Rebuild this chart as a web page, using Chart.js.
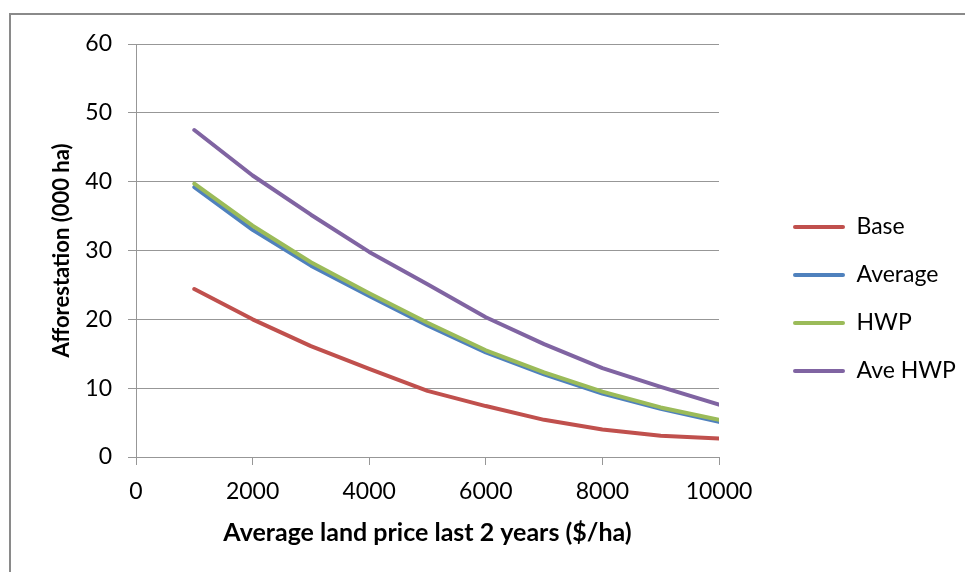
<!DOCTYPE html>
<html>
<head>
<meta charset="utf-8">
<script src="https://cdn.jsdelivr.net/npm/chart.js@4/dist/chart.umd.min.js"></script>
<style>
  html, body { margin: 0; padding: 0; background: #ffffff; }
  canvas { display: block; }
</style>
</head>
<body>
<canvas id="chart" width="965" height="572"></canvas>
<script>
// Land price (x, $/ha) and afforestation response (000 ha) per scenario
const landPrice = [1000, 2000, 3000, 4000, 5000, 6000, 7000, 8000, 9000, 10000];
const base      = [24.4, 20.0, 16.1, 12.8, 9.6, 7.4, 5.4, 4.0, 3.1, 2.7];
const average   = [39.2, 33.0, 27.8, 23.4, 19.1, 15.2, 12.0, 9.2, 7.0, 5.1];
const hwp       = [39.7, 33.6, 28.3, 23.8, 19.5, 15.5, 12.3, 9.5, 7.2, 5.4];
const aveHwp    = [47.5, 40.9, 35.2, 29.8, 25.1, 20.3, 16.4, 12.9, 10.2, 7.6];

const seriesNames  = ['Base', 'Average', 'HWP', 'Ave HWP'];
const seriesValues = [base, average, hwp, aveHwp];
const seriesColors = ['#C0504D', '#4F81BD', '#9BBB59', '#8064A2'];

const xTitle = 'Average land price last 2 years ($/ha)';
const yTitle = 'Afforestation (000 ha)';

Chart.defaults.font.family = 'Lato, "Open Sans", sans-serif';
Chart.defaults.color = '#000000';

const GRID = '#979797';

// Outer frame of the chart object
const framePlugin = {
  id: 'frame',
  beforeDraw(chart) {
    const ctx = chart.ctx;
    ctx.save();
    ctx.strokeStyle = '#8a8a8a';
    ctx.lineWidth = 2;
    ctx.strokeRect(10, 14, 1200, 1200);
    ctx.restore();
  }
};

// Place the legend column a little away from the plot
const legendPlacePlugin = {
  id: 'legendPlace',
  afterLayout(chart) {
    const lg = chart.legend;
    if (!lg) return;
    lg.left = 768;
    lg.right = 965;
    lg.width = lg.right - lg.left;
    lg.top += 3;
    lg.bottom += 3;
  }
};

const datasets = seriesNames.map((name, i) => ({
  label: name,
  data: landPrice.map((x, j) => ({ x: x, y: seriesValues[i][j] })),
  borderColor: seriesColors[i],
  backgroundColor: seriesColors[i],
  borderWidth: 4,
  pointRadius: 0,
  pointHoverRadius: 0,
  tension: 0,
  borderCapStyle: 'round',
  borderJoinStyle: 'round',
  order: seriesNames.length - i
}));

new Chart(document.getElementById('chart'), {
  type: 'line',
  data: { datasets },
  plugins: [framePlugin, legendPlacePlugin],
  options: {
    responsive: false,
    animation: false,
    events: [],
    layout: { padding: { left: 49, top: 44, right: 66, bottom: 24 } },
    scales: {
      x: {
        type: 'linear',
        min: 0,
        max: 10000,
        afterFit(scale) { scale.height = 91; },
        ticks: {
          stepSize: 2000,
          padding: 13,
          maxRotation: 0,
          font: { size: 23 },
          color: '#000000',
          format: { useGrouping: false }
        },
        grid: {
          drawOnChartArea: false,
          drawTicks: true,
          tickLength: 8,
          color: GRID,
          lineWidth: 1
        },
        border: { display: true, color: GRID, width: 1 },
        title: {
          display: true,
          text: xTitle,
          font: { size: 25, weight: 'bold' },
          color: '#000000',
          padding: { top: 0, bottom: 0 }
        }
      },
      y: {
        type: 'linear',
        min: 0,
        max: 60,
        afterFit(scale) { scale.width = 87; },
        ticks: {
          stepSize: 10,
          padding: 16,
          font: { size: 23 },
          color: '#000000'
        },
        grid: {
          drawOnChartArea: true,
          drawTicks: true,
          tickLength: 8,
          color: GRID,
          lineWidth: 1
        },
        border: { display: true, color: GRID, width: 1 },
        title: {
          display: true,
          text: yTitle,
          font: { size: 22, weight: 'bold' },
          color: '#000000',
          padding: { top: 0, bottom: 0 }
        }
      }
    },
    plugins: {
      tooltip: { enabled: false },
      legend: {
        display: true,
        position: 'right',
        maxWidth: 180,
        labels: {
          boxWidth: 52,
          boxHeight: 4,
          padding: 25,
          useBorderRadius: true,
          borderRadius: 2,
          font: { size: 23 },
          color: '#000000',
          sort: (a, b) => a.datasetIndex - b.datasetIndex,
          generateLabels(chart) {
            return Chart.defaults.plugins.legend.labels.generateLabels(chart)
              .map(item => Object.assign({}, item, { lineWidth: 0 }));
          }
        }
      }
    }
  }
});
</script>
</body>
</html>
